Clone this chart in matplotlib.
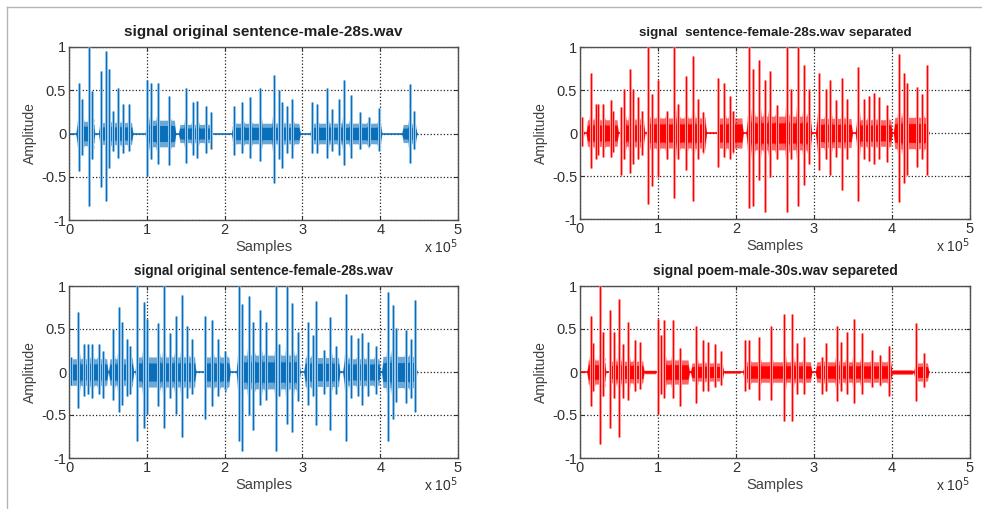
import matplotlib
matplotlib.use("Agg")
import matplotlib.pyplot as plt
from matplotlib.lines import Line2D

plt.rcParams['font.family'] = ['Liberation Sans', 'DejaVu Sans']

# x positions are in units of 1e5 samples (axis shows "x 10^5")
# bursts: (start, end, body amplitude)
male_orig_bursts = [(0.09, 0.33, 0.20), (0.38, 0.82, 0.18), (0.98, 1.37, 0.22),
                    (1.41, 1.84, 0.15), (2.09, 2.97, 0.17), (3.10, 4.02, 0.17),
                    (4.28, 4.47, 0.15)]
female_sep_bursts = [(0.02, 0.05, 0.08), (0.08, 0.49, 0.22), (0.51, 0.83, 0.22),
                     (0.85, 1.62, 0.25), (1.75, 2.09, 0.25), (2.13, 2.97, 0.28),
                     (3.02, 3.49, 0.24), (3.53, 4.00, 0.22), (4.02, 4.47, 0.26)]
female_orig_bursts = [(0.00, 0.50, 0.22), (0.51, 0.83, 0.22), (0.85, 1.63, 0.25),
                      (1.75, 2.07, 0.25), (2.15, 2.97, 0.28), (3.02, 3.48, 0.24),
                      (3.52, 4.00, 0.22), (4.02, 4.47, 0.26)]
male_sep_bursts = [(0.09, 0.33, 0.20), (0.38, 0.82, 0.18), (0.83, 0.97, 0.03),
                   (0.98, 1.40, 0.20), (1.42, 1.84, 0.15), (1.85, 2.05, 0.02),
                   (2.09, 2.97, 0.17), (3.02, 4.00, 0.17), (4.00, 4.27, 0.04),
                   (4.28, 4.47, 0.15)]

# spikes: (x, top, bottom)
male_orig_spikes = [
    (0.13, 0.58, -0.43), (0.17, 0.40, -0.25), (0.26, 1.00, -0.84), (0.30, 0.49, -0.30),
    (0.41, 0.72, -0.62), (0.48, 0.95, -0.78), (0.51, 0.74, -0.40), (0.56, 0.26, -0.20),
    (0.63, 0.53, -0.28), (0.69, 0.34, -0.22), (0.77, 0.34, -0.20), (1.00, 0.62, -0.49),
    (1.05, 0.58, -0.30), (1.14, 0.58, -0.35), (1.29, 0.43, -0.36), (1.50, 0.53, -0.34),
    (1.59, 0.36, -0.25), (1.65, 0.38, -0.28), (1.76, 0.32, -0.22), (1.82, 0.25, -0.18),
    (2.12, 0.32, -0.25), (2.23, 0.36, -0.22), (2.33, 0.42, -0.28), (2.46, 0.53, -0.32),
    (2.63, 0.68, -0.57), (2.70, 0.50, -0.30), (2.74, 0.36, -0.40), (2.80, 0.32, -0.22),
    (2.87, 0.40, -0.28), (3.12, 0.36, -0.23), (3.19, 0.34, -0.22), (3.32, 0.53, -0.28),
    (3.38, 0.28, -0.20), (3.47, 0.40, -0.25), (3.53, 0.62, -0.36), (3.62, 0.45, -0.28),
    (3.74, 0.25, -0.18), (3.85, 0.19, -0.15), (3.98, 0.30, -0.20), (4.38, 0.57, -0.34),
    (4.43, 0.26, -0.18)]
female_sep_spikes = [
    (0.03, 0.19, -0.15), (0.14, 0.70, -0.41), (0.20, 0.34, -0.30), (0.23, 0.34, -0.25),
    (0.30, 0.34, -0.28), (0.40, 0.38, -0.28), (0.42, 0.26, -0.22), (0.53, 0.30, -0.49),
    (0.57, 0.51, -0.30), (0.64, 0.75, -0.47), (0.68, 0.51, -0.36), (0.74, 0.42, -0.30),
    (0.79, 0.26, -0.25), (0.87, 1.00, -0.82), (0.92, 0.45, -0.62), (1.00, 0.62, -0.51),
    (1.11, 0.26, -0.30), (1.21, 1.00, -0.76), (1.26, 0.34, -0.30), (1.36, 0.66, -0.43),
    (1.45, 0.89, -0.79), (1.51, 0.40, -0.30), (1.58, 0.25, -0.22), (1.77, 0.64, -0.40),
    (1.85, 0.58, -0.28), (1.92, 0.43, -0.30), (1.96, 0.26, -0.22), (2.17, 1.00, -0.87),
    (2.22, 0.74, -0.85), (2.30, 0.85, -0.55), (2.37, 0.62, -0.92), (2.43, 0.72, -0.51),
    (2.52, 0.32, -0.30), (2.65, 1.00, -0.92), (2.70, 0.51, -0.30), (2.79, 1.00, -0.85),
    (2.87, 0.79, -0.60), (2.93, 0.51, -0.36), (3.06, 0.70, -0.43), (3.15, 0.51, -0.30),
    (3.21, 0.62, -0.49), (3.28, 0.38, -0.28), (3.36, 0.64, -0.66), (3.42, 0.40, -0.30),
    (3.57, 0.77, -0.79), (3.64, 0.40, -0.30), (3.70, 0.43, -0.32), (3.77, 0.47, -0.36),
    (3.83, 0.42, -0.30), (3.94, 0.32, -0.34), (4.09, 0.92, -0.80), (4.15, 0.70, -0.58),
    (4.19, 0.58, -0.49), (4.32, 0.53, -0.40), (4.39, 0.45, -0.30), (4.45, 0.79, -0.49)]
female_orig_spikes = [
    (0.03, 0.18, -0.15), (0.12, 0.70, -0.42), (0.19, 0.32, -0.28), (0.25, 0.32, -0.25),
    (0.30, 0.32, -0.30), (0.38, 0.32, -0.25), (0.44, 0.24, -0.30), (0.57, 0.50, -0.32),
    (0.64, 0.76, -0.47), (0.68, 0.58, -0.38), (0.75, 0.38, -0.28), (0.79, 0.30, -0.25),
    (0.87, 1.00, -0.80), (0.96, 0.81, -0.65), (1.00, 0.62, -0.49), (1.15, 0.57, -0.40),
    (1.22, 1.00, -0.65), (1.30, 0.45, -0.30), (1.37, 0.65, -0.49), (1.45, 0.89, -0.76),
    (1.52, 0.53, -0.30), (1.58, 0.38, -0.25), (1.75, 0.65, -0.55), (1.84, 0.60, -0.40),
    (1.92, 0.38, -0.28), (2.01, 0.24, -0.20), (2.19, 1.00, -0.80), (2.22, 0.79, -0.92),
    (2.31, 0.88, -0.50), (2.37, 0.58, -0.68), (2.46, 0.72, -0.38), (2.53, 0.58, -0.32),
    (2.66, 1.00, -0.92), (2.70, 0.32, -0.28), (2.80, 1.00, -0.60), (2.87, 0.80, -0.70),
    (2.94, 0.47, -0.34), (3.07, 0.58, -0.38), (3.13, 0.43, -0.28), (3.17, 0.83, -0.62),
    (3.28, 0.26, -0.25), (3.36, 0.64, -0.68), (3.43, 0.30, -0.25), (3.56, 0.91, -0.80),
    (3.62, 0.43, -0.30), (3.71, 0.40, -0.28), (3.77, 0.45, -0.38), (3.84, 0.35, -0.28),
    (3.94, 0.30, -0.25), (4.10, 0.93, -0.80), (4.16, 0.78, -0.55), (4.20, 0.51, -0.35),
    (4.33, 0.49, -0.36), (4.39, 0.38, -0.30), (4.45, 0.84, -0.46)]
male_sep_spikes = [
    (0.14, 0.65, -0.40), (0.17, 0.34, -0.22), (0.26, 1.00, -0.84), (0.30, 0.47, -0.28),
    (0.39, 0.72, -0.65), (0.44, 0.47, -0.30), (0.50, 0.85, -0.76), (0.55, 0.32, -0.30),
    (0.62, 0.58, -0.32), (0.70, 0.37, -0.22), (0.77, 0.35, -0.20), (1.00, 0.62, -0.49),
    (1.04, 0.43, -0.25), (1.08, 0.60, -0.30), (1.19, 0.60, -0.30), (1.28, 0.28, -0.40),
    (1.49, 0.53, -0.36), (1.58, 0.37, -0.22), (1.64, 0.35, -0.22), (1.73, 0.32, -0.18),
    (1.81, 0.24, -0.15), (2.11, 0.37, -0.22), (2.17, 0.37, -0.20), (2.30, 0.41, -0.32),
    (2.45, 0.53, -0.32), (2.62, 0.67, -0.57), (2.72, 0.68, -0.57), (2.78, 0.34, -0.25),
    (2.87, 0.41, -0.25), (3.10, 0.18, -0.26), (3.15, 0.34, -0.22), (3.29, 0.53, -0.34),
    (3.34, 0.35, -0.22), (3.42, 0.47, -0.25), (3.51, 0.62, -0.36), (3.61, 0.45, -0.26),
    (3.74, 0.26, -0.18), (3.85, 0.20, -0.15), (3.96, 0.30, -0.28), (4.31, 0.57, -0.34),
    (4.41, 0.22, -0.18)]

signal_end = 4.47
x_ticks = [0, 1, 2, 3, 4, 5]
y_ticks = [-1, -0.5, 0, 0.5, 1]
y_ticklabels = ['-1', '-0.5', '0', '0.5', '1']

blue, blue_light = '#0a6fba', '#a9d0ee'
red, red_light = '#ff0000', '#ffb0b0'

panels = [
    ('signal original sentence-male-28s.wav', male_orig_bursts, male_orig_spikes,
     blue, blue_light, (69, 47, 458, 220), 11),
    ('signal  sentence-female-28s.wav separated', female_sep_bursts, female_sep_spikes,
     red, red_light, (580, 47, 970, 219), 9.6),
    ('signal original sentence-female-28s.wav', female_orig_bursts, female_orig_spikes,
     blue, blue_light, (69, 286, 458, 458), 9.8),
    ('signal poem-male-30s.wav separeted', male_sep_bursts, male_sep_spikes,
     red, red_light, (580, 286, 970, 458), 10),
]

W, H = 982, 509
fig = plt.figure(figsize=(W / 100, H / 100), dpi=100)

# thin grey frame around the picture
fig.add_artist(Line2D([7 / W, 1], [1 - 7 / H, 1 - 7 / H], transform=fig.transFigure,
                      color='#b4b4b4', lw=1))
fig.add_artist(Line2D([7 / W, 7 / W], [0, 1 - 7 / H], transform=fig.transFigure,
                      color='#b4b4b4', lw=1))


def body_outline(s, e, a, pts):
    # envelope of one speech burst: tapered ends, swelling at the spikes inside it
    xs = [s, s + 0.015]
    ys = [0.02, a * 0.7]
    for x, top, bot in pts:
        if s + 0.03 < x < e - 0.03:
            xs += [x - 0.025, x, x + 0.025]
            ys += [a * 0.7, max(a, top * 0.5), a * 0.7]
    xs += [e - 0.015, e]
    ys += [a * 0.7, 0.02]
    return xs, ys


for title, bursts, spikes, col, col_light, (l, t, r, b), tsize in panels:
    ax = fig.add_axes([l / W, 1 - b / H, (r - l) / W, (b - t) / H])
    # flat line between speech parts
    ax.plot([0, signal_end], [0, 0], color=col, lw=1.2, zorder=2)
    for s, e, a in bursts:
        xs, ys = body_outline(s, e, a, spikes)
        ax.fill_between(xs, ys, [-v for v in ys], color=col, alpha=0.6, lw=0, zorder=2)
        ax.fill_between(xs, [v * 0.6 for v in ys], [-v * 0.6 for v in ys],
                        color=col, lw=0, zorder=3)
    xs = [p[0] for p in spikes]
    tops = [p[1] for p in spikes]
    bots = [p[2] for p in spikes]
    ax.vlines(xs, bots, tops, color=col_light, lw=2.2, zorder=3)
    ax.vlines(xs, bots, tops, color=col, lw=0.9, zorder=4)

    ax.set_xlim(0, 5)
    ax.set_ylim(-1, 1)
    ax.set_xticks(x_ticks)
    ax.set_yticks(y_ticks)
    ax.set_yticklabels(y_ticklabels)
    ax.grid(True, color='#202020', ls=':', lw=0.9)
    ax.set_axisbelow(True)
    ax.tick_params(direction='in', length=3, top=True, right=True,
                   labelsize=10.5, colors='#303030', pad=2)
    for sp in ax.spines.values():
        sp.set_color('#505050')
        sp.set_linewidth(1.0)
    ax.set_title(title, fontsize=tsize, fontweight='bold', pad=8, color='#202020')
    ax.set_xlabel('Samples', fontsize=10.5, color='#404040', labelpad=2)
    ax.set_ylabel('Amplitude', fontsize=10, color='#404040', labelpad=3)
    ax.text(1.0, -0.1, r'x 10$^5$', transform=ax.transAxes, ha='right', va='top',
            fontsize=10, color='#303030')

fig.savefig('out.png', dpi=100)
